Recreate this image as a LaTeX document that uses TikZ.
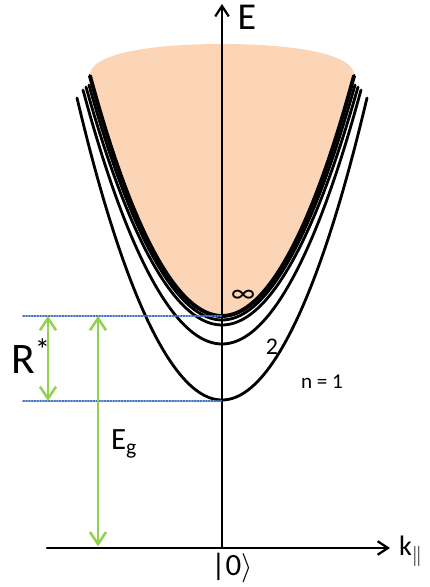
\documentclass[tikz,border=0pt]{standalone}
\usepackage{fontspec}
\setmainfont{Carlito}
\usetikzlibrary{arrows.meta}
\definecolor{peach}{RGB}{251,213,181}
\definecolor{lgreen}{RGB}{146,208,80}
\definecolor{dotblue}{RGB}{68,114,196}

\begin{document}
\begin{tikzpicture}[>={Straight Barb[length=2.6mm,width=3.4mm]},line cap=round,
  band/.style={line width=2pt},
  axis/.style={->,line width=1.6pt},
  gaparrow/.style={lgreen,line width=1.8pt,{Straight Barb[length=3mm,width=4mm]}-{Straight Barb[length=3mm,width=4mm]}},
  level/.style={dotblue,densely dotted,line width=1pt},
  big/.style={font=\fontsize{22}{26}\selectfont},
  small/.style={font=\fontsize{17}{20}\selectfont}]
\useasboundingbox (-5.55,-0.975) rectangle (5.2,13.7);

% continuum of unbound states
\fill[peach] (-3.3,11.8) parabola bend (0,5.8) (3.3,11.8)
  .. controls (3.35,12.35) and (1.8,12.6) .. (0,12.6)
  .. controls (-1.8,12.6) and (-3.35,12.35) .. (-3.3,11.8);

% exciton bands n = 1,2,3,4 and the edge
\foreach \bot/\top/\hw in {3.7/11.25/3.625, 5.1/11.45/3.475, 5.575/11.525/3.4, 5.7/11.575/3.325}
  \draw[band] (-\hw,\top) parabola bend (0,\bot) (\hw,\top);
\draw[band,line width=2.8pt] (-3.3,11.8) parabola bend (0,5.8) (3.3,11.8);

% axes
\coordinate (O) at (0,0);
\coordinate (Etip) at (0,13.6);
\coordinate (kstart) at (-4.375,0);
\coordinate (ktip) at (4.2,0);
\draw[axis] (O) -- (Etip);
\draw[axis] (kstart) -- (ktip);

% levels
\coordinate (gapL) at (-4.975,5.8);
\coordinate (gapR) at (0,5.8);
\coordinate (oneL) at (-4.975,3.675);
\coordinate (oneR) at (0,3.675);
\draw[level] (gapL) -- (gapR);
\draw[level] (oneL) -- (oneR);

\coordinate (Rtop) at (-4.35,5.8);
\coordinate (Rbot) at (-4.35,3.675);
\coordinate (Egtop) at (-3.1,5.8);
\coordinate (Egbot) at (-3.1,0.04);
\draw[gaparrow] (Rtop) -- (Rbot);
\draw[gaparrow] (Egtop) -- (Egbot);

% labels
\node[font=\fontsize{27}{31}\selectfont] (Elab) at (0.625,13.275) {E};
\node[font=\fontsize{20}{24}\selectfont,anchor=west,inner sep=0pt] (klab) at (4.42,-0.08) {k$_{\|}$};
\node[big] (vac) at (0.25,-0.5) {|0$\rangle$};
\node[font=\fontsize{31}{36}\selectfont] (Rlab) at (-4.775,4.8) {R\textsuperscript{*}};
\node[big] (Eglab) at (-2.45,2.6) {E\textsubscript{g}};
\node[font=\fontsize{20}{24}\selectfont] (ninf) at (0.525,6.3) {∞};
\node[small] (ntwo) at (1.25,5.025) {2};
\node[font=\fontsize{15}{18}\selectfont] (none) at (2.5,4.15) {n = 1};
\end{tikzpicture}
\end{document}
